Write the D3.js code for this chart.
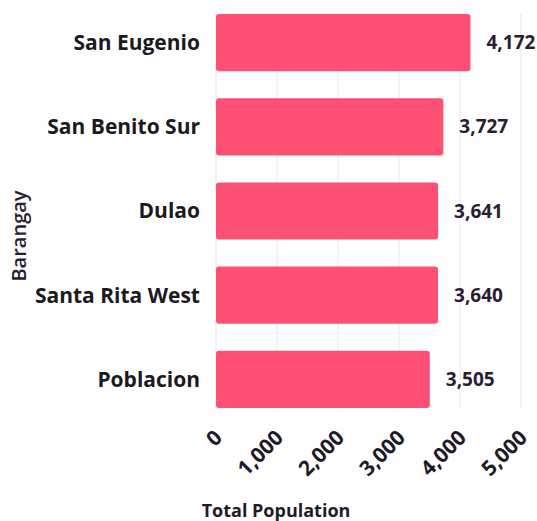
<!DOCTYPE html>
<html><head><meta charset="utf-8">
<script src="https://cdn.jsdelivr.net/npm/d3@7"></script>
<style>body{margin:0;background:#fff}svg{display:block}text{font-family:"Open Sans",sans-serif}</style>
</head><body>
<script>
const categories = ["San Eugenio","San Benito Sur","Dulao","Santa Rita West","Poblacion"];
const values = [4172,3727,3641,3640,3505];
const ticks = [0,1000,2000,3000,4000,5000];
const xTitle = "Total Population";
const yTitle = "Barangay";

const W=537,H=521;
const svg=d3.select("body").append("svg").attr("width",W).attr("height",H);
const x=d3.scaleLinear().domain([0,5000]).range([216,521]);
const y=d3.scaleBand().domain(categories).range([14,408]).paddingInner(0.32).paddingOuter(0);

svg.append("g").selectAll("line").data(ticks).join("line")
  .attr("x1",d=>x(d)).attr("x2",d=>x(d)).attr("y1",14).attr("y2",409)
  .attr("stroke","#e6e6e6").attr("stroke-width",1);

svg.append("g").selectAll("rect").data(categories).join("rect")
  .attr("x",x(0)).attr("y",d=>y(d)).attr("width",(d,i)=>x(values[i])-x(0))
  .attr("height",y.bandwidth()).attr("rx",3).attr("fill","#fe5074");

svg.append("g").selectAll("text").data(categories).join("text")
  .attr("x",200).attr("y",d=>y(d)+y.bandwidth()/2).attr("dy","0.35em")
  .attr("text-anchor","end").attr("font-size",21).attr("font-weight",700)
  .attr("fill","#1b1a1f").text(d=>d);

svg.append("g").selectAll("text").data(categories).join("text")
  .attr("x",(d,i)=>x(values[i])+16).attr("y",d=>y(d)+y.bandwidth()/2).attr("dy","0.35em")
  .attr("font-size",19).attr("font-weight",700).attr("fill","#2b1d33")
  .text((d,i)=>d3.format(",")(values[i]));

const xa=svg.append("g").attr("transform","translate(0,415)")
  .call(d3.axisBottom(x).tickValues(ticks).tickFormat(d3.format(",")).tickSize(0));
xa.select(".domain").remove();
xa.selectAll("text").attr("font-size",21).attr("font-weight",700).attr("fill","#1f1a2a")
  .attr("text-anchor","end").attr("transform","translate(7,24) rotate(-45)").attr("dy","0").attr("y",0);

svg.append("text").attr("x",276).attr("y",517).attr("text-anchor","middle")
  .attr("font-size",18).attr("font-weight",700).attr("fill","#1f1a2a").text(xTitle);
svg.append("text").attr("transform","translate(26,236) rotate(-90)").attr("text-anchor","middle")
  .attr("font-size",20).attr("font-weight",600).attr("fill","#2b1d33").text(yTitle);
</script>
</body></html>
